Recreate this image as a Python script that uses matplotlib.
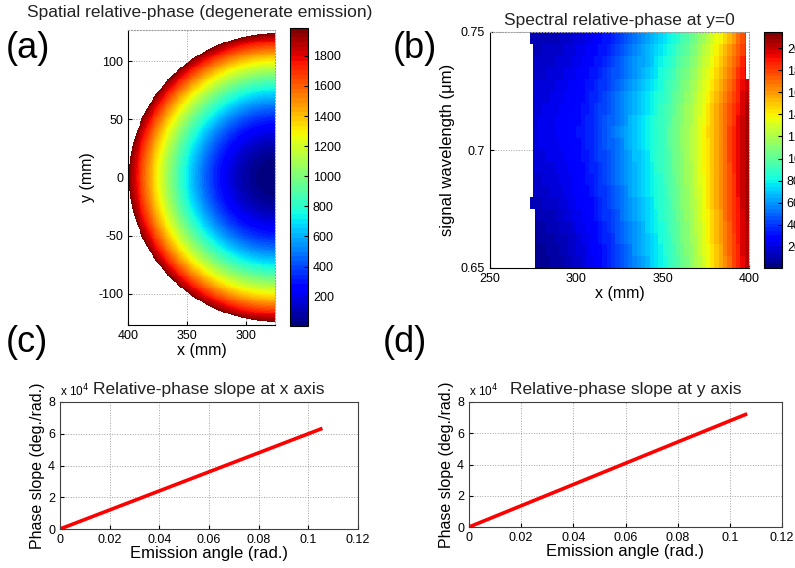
import numpy as np
import matplotlib
matplotlib.use("Agg")
import matplotlib.pyplot as plt
from matplotlib.ticker import FuncFormatter

plt.rcParams['font.family'] = ['Liberation Sans', 'DejaVu Sans']
plt.rcParams['axes.unicode_minus'] = False

# ---- panel (a): spatial relative phase, half disk ----
disk_x0 = 275.0        # mm, flat edge of the half disk
disk_radius = 124.0    # mm
phase_edge = 1980.0    # deg at the rim
phase_min = 5.0
cbar_a_ticks = [200, 400, 600, 800, 1000, 1200, 1400, 1600, 1800]

# ---- panel (b): spectral relative phase at y=0 ----
# column edges every 2.5 mm, phase of each column on the middle row
col_x = np.arange(275, 400.1, 2.5)
col_phase = [215, 220, 225, 232, 240, 250, 260, 272, 285, 300,
             316, 334, 354, 376, 400, 426, 454, 484, 515, 548,
             582, 617, 652, 688, 720, 752, 786, 822, 860, 900,
             940, 982, 1025, 1070, 1117, 1166, 1218, 1272, 1328, 1386,
             1446, 1508, 1572, 1640, 1710, 1780, 1850, 1925, 2000, 2075]
row_lam = [0.650, 0.655, 0.660, 0.665, 0.670, 0.675, 0.680, 0.685, 0.690,
           0.695, 0.700, 0.705, 0.710, 0.715, 0.720, 0.725, 0.730, 0.735,
           0.740, 0.745, 0.750]
# how much lower each row is than the middle row, at left and right side
drop_left = [170, 160, 145, 125, 105, 85, 65, 50, 35, 20,
             10, 5, 5, 10, 20, 30, 45, 60, 75, 90]
drop_right = [60, 50, 40, 30, 20, 15, 10, 5, 0, 0,
              0, 0, 10, 25, 50, 80, 115, 155, 200, 250]
row_start = [276, 276, 276, 276, 276, 273, 275, 275, 275, 275, 275, 275,
             275, 275, 275, 275, 275, 275, 275, 273]
row_end = [400, 400, 400, 400, 400, 400, 400, 400, 400, 400, 400, 400,
           400, 400, 400, 400, 398.5, 398.5, 398.5, 398.5]
cbar_b_ticks = [200, 400, 600, 800, 1000, 1200, 1400, 1600, 1800, 2000]

# ---- panels (c), (d): phase slope vs emission angle ----
angle_c = [0, 0.02, 0.04, 0.06, 0.08, 0.105]
slope_c = [0, 1.2e4, 2.4e4, 3.6e4, 4.8e4, 6.3e4]
angle_d = [0, 0.02, 0.04, 0.06, 0.08, 0.106]
slope_d = [0, 1.36e4, 2.72e4, 4.08e4, 5.44e4, 7.2e4]

W, H = 795, 568
fig = plt.figure(figsize=(W / 100, H / 100), dpi=100)


def box(l, t, r, b):
    return [l / W, 1 - b / H, (r - l) / W, (b - t) / H]


cmap = plt.get_cmap('jet', 64)
grid_kw = dict(color='#a0a0a0', linestyle=':', linewidth=0.7)
TICK = 9


def matlab_axes(ax, full_box=False):
    ax.tick_params(direction='in', length=3, labelsize=TICK, top=False, right=False)
    ax.set_axisbelow(True)
    ax.grid(True, **grid_kw)
    if not full_box:
        for s in ['top', 'right']:
            ax.spines[s].set_linestyle(':')
            ax.spines[s].set_color('#a0a0a0')


# (a)
axa = fig.add_axes(box(128, 30, 275, 325))
xs = np.linspace(disk_x0, 400, 160)
ys = np.linspace(-127, 127, 320)
XX, YY = np.meshgrid(xs, ys)
rr = np.hypot(XX - disk_x0, YY)
phase_a = np.maximum(phase_edge * (rr / disk_radius) ** 2, phase_min)
phase_a = np.ma.masked_where(rr > disk_radius, phase_a)
ima = axa.pcolormesh(XX, YY, phase_a, cmap=cmap, vmin=phase_min, vmax=1985,
                     shading='nearest', rasterized=True)
axa.set_xlim(400, 275)
axa.set_ylim(-127, 127)
axa.set_xticks([400, 350, 300])
axa.set_yticks([-100, -50, 0, 50, 100])
matlab_axes(axa)
axa.set_xlabel('x (mm)', fontsize=11.5, labelpad=1)
axa.set_ylabel('y (mm)', fontsize=11.5, labelpad=2)
fig.text(200 / W, 1 - 13 / H, 'Spatial relative-phase (degenerate emission)',
         ha='center', va='center', fontsize=12.5, color='#222222')
cba = fig.add_axes(box(290, 28, 308, 326))
cb = fig.colorbar(ima, cax=cba, ticks=cbar_a_ticks)
cb.ax.tick_params(direction='in', length=3, labelsize=TICK)

# (b)
axb = fig.add_axes(box(490, 32, 749, 268))
centers = (col_x[:-1] + col_x[1:]) / 2
frac = (centers - 275) / 125
for i in range(len(drop_left)):
    edges = col_x.copy()
    edges[0] = row_start[i]
    edges[-1] = row_end[i]
    drop = drop_left[i] * (1 - frac) + drop_right[i] * frac
    vals = np.maximum(np.array(col_phase) - drop, 10)
    imb = axb.pcolormesh(edges, [row_lam[i], row_lam[i + 1]], vals[None, :],
                         cmap=cmap, vmin=10, vmax=2145, shading='flat')
axb.set_xlim(250, 400)
axb.set_ylim(0.65, 0.75)
axb.set_xticks([250, 300, 350, 400])
axb.set_yticks([0.65, 0.7, 0.75])
axb.yaxis.set_major_formatter(FuncFormatter(lambda v, p: '%g' % v))
matlab_axes(axb)
axb.set_xlabel('x (mm)', fontsize=11.5, labelpad=1)
axb.set_ylabel('signal wavelength (\u03bcm)', fontsize=12, labelpad=4)
axb.set_title('Spectral relative-phase at y=0', fontsize=12.5, color='#222222', pad=5)
cbb = fig.add_axes(box(764, 32, 782, 268))
cb2 = fig.colorbar(imb, cax=cbb, ticks=cbar_b_ticks)
cb2.ax.tick_params(direction='in', length=3, labelsize=TICK)

# (c), (d)
for bx, ang, slp, ttl in [((60, 402, 358, 529), angle_c, slope_c,
                           'Relative-phase slope at x axis'),
                          ((469, 402, 782, 527), angle_d, slope_d,
                           'Relative-phase slope at y axis')]:
    ax = fig.add_axes(box(*bx))
    ax.plot(ang, slp, color='red', linewidth=2.6)
    ax.set_xlim(0, 0.12)
    ax.set_ylim(0, 8e4)
    ax.set_xticks([0, 0.02, 0.04, 0.06, 0.08, 0.1, 0.12])
    ax.set_yticks([0, 2e4, 4e4, 6e4, 8e4])
    ax.xaxis.set_major_formatter(FuncFormatter(lambda v, p: '%g' % v))
    ax.yaxis.set_major_formatter(FuncFormatter(lambda v, p: '%g' % (v / 1e4)))
    matlab_axes(ax, full_box=True)
    for s in ax.spines.values():
        s.set_color('#404040')
    ax.set_xlabel('Emission angle (rad.)', fontsize=12, labelpad=0)
    ax.set_ylabel('Phase slope (deg./rad.)', fontsize=11.5, labelpad=2)
    ax.set_title(ttl, fontsize=12.5, color='#222222', pad=6)
    ax.text(0.0, 1.02, 'x 10$^4$', transform=ax.transAxes, fontsize=8.5,
            ha='left', va='bottom')

# panel letters
for lbl, px, py in [('(a)', 6, 48), ('(b)', 393, 48), ('(c)', 6, 342), ('(d)', 383, 342)]:
    fig.text(px / W, 1 - py / H, lbl, fontsize=26, ha='left', va='center')

fig.savefig('out.png', dpi=100)
